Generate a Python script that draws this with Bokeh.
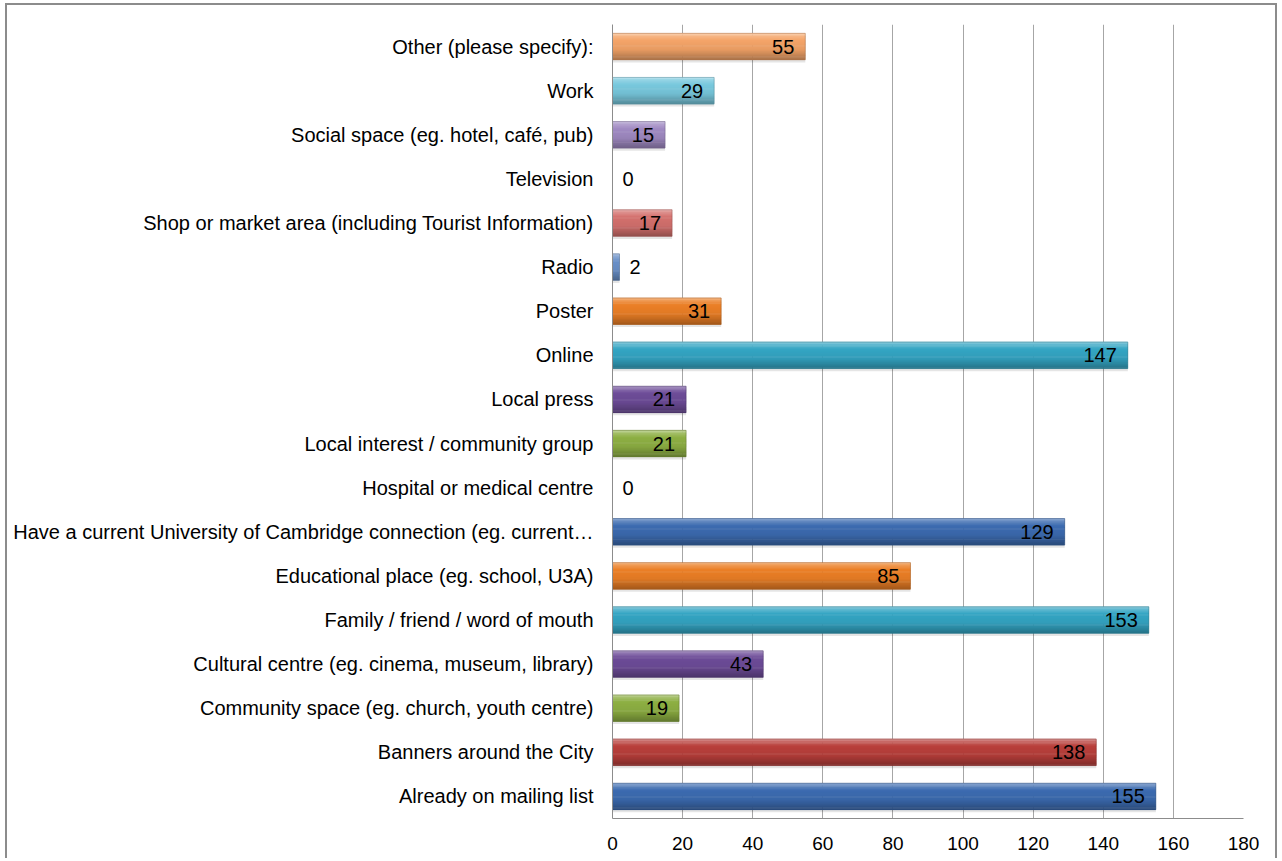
from bokeh.plotting import figure
from bokeh.models import ColumnDataSource, Range1d, FixedTicker, LabelSet
from bokeh.core.properties import value
from bokeh.embed import file_html
from bokeh.resources import INLINE

categories = [
    "Already on mailing list",
    "Banners around the City",
    "Community space (eg. church, youth centre)",
    "Cultural centre (eg. cinema, museum, library)",
    "Family / friend / word of mouth",
    "Educational place (eg. school, U3A)",
    "Have a current University of Cambridge connection (eg. current\u2026",
    "Hospital or medical centre",
    "Local interest / community group",
    "Local press",
    "Online",
    "Poster",
    "Radio",
    "Shop or market area (including Tourist Information)",
    "Television",
    "Social space (eg. hotel, caf\u00e9, pub)",
    "Work",
    "Other (please specify):",
]
values = [155, 138, 19, 43, 153, 85, 129, 0, 21, 21, 147, 31, 2, 17, 0, 15, 29, 55]
x_ticks = [0, 20, 40, 60, 80, 100, 120, 140, 160, 180]

# styles
base_cols = ["#3C6BB0", "#B83F3B", "#8DAF43", "#6D4C98", "#34A5C3", "#EB7F26"]
light_cols = ["#6A90C8", "#D4716E", "#B4CF7C", "#A08AC2", "#78C8DD", "#F4A468"]
FONT = "Liberation Sans"
BAR_H = 0.6
N_STRIP = 24


def hex2rgb(h):
    h = h.lstrip("#")
    return [int(h[i:i + 2], 16) for i in (0, 2, 4)]


def rgb2hex(c):
    return "#%02x%02x%02x" % tuple(max(0, min(255, int(round(v)))) for v in c)


keys_t = [0.0, 0.10, 0.28, 0.62, 1.0]
keys_f = [0.50, 0.22, 0.0, -0.05, -0.30]


def shade(h, t):
    f = 0.0
    for i in range(len(keys_t) - 1):
        if keys_t[i] <= t <= keys_t[i + 1]:
            a = (t - keys_t[i]) / (keys_t[i + 1] - keys_t[i])
            f = keys_f[i] + a * (keys_f[i + 1] - keys_f[i])
            break
    c = hex2rgb(h)
    if f >= 0:
        c = [v + (255 - v) * f for v in c]
    else:
        c = [v * (1 + f) for v in c]
    return rgb2hex(c)


bar_colors = []
for i in range(len(categories)):
    cyc = i // 6
    bar_colors.append((light_cols if cyc >= 2 else base_cols)[i % 6])

sy, sv, sc = [], [], []
sh = BAR_H / N_STRIP
for i, (v, col) in enumerate(zip(values, bar_colors)):
    for k in range(N_STRIP):
        t = (k + 0.5) / N_STRIP
        sy.append(i + BAR_H / 2 - (k + 0.5) * sh)
        sv.append(v)
        sc.append(shade(col, t))
strips = ColumnDataSource(dict(y=sy, right=sv, color=sc))

p = figure(width=1272, height=855, output_backend="svg", toolbar_location=None,
           x_range=Range1d(0, 180), y_range=Range1d(-0.5, len(categories) - 0.5),
           min_border_left=605, min_border_right=36, min_border_top=19, min_border_bottom=42)
p.styles = {"margin-left": "5px", "margin-top": "3px",
            "border-left": "2px solid #8c8c8c", "border-top": "2px solid #8c8c8c",
            "border-right": "2px solid #8c8c8c"}
p.outline_line_color = None
p.background_fill_color = "white"
p.border_fill_color = "white"

# shadow
shadow = ColumnDataSource(dict(y=[i - 0.06 for i in range(len(values))], right=values))
p.hbar(y="y", right="right", left=0, height=BAR_H, source=shadow,
       fill_color="#000000", fill_alpha=0.10, line_color=None)

p.hbar(y="y", right="right", left=0, height=sh * 1.5, source=strips,
       fill_color="color", line_color=None)

outline = ColumnDataSource(dict(y=list(range(len(values))), right=values,
                                color=[shade(c, 1.0) for c in bar_colors]))
p.hbar(y="y", right="right", left=0, height=BAR_H, source=outline,
       fill_color=None, line_color="color", line_alpha=0.5, line_width=1)

# labels
ins = [i for i, v in enumerate(values) if v >= 5]
outs = [i for i, v in enumerate(values) if v < 5]
src_in = ColumnDataSource(dict(x=[values[i] for i in ins], y=ins, t=[str(values[i]) for i in ins]))
src_out = ColumnDataSource(dict(x=[values[i] for i in outs], y=outs, t=[str(values[i]) for i in outs]))
p.add_layout(LabelSet(x="x", y="y", text="t", source=src_in, x_offset=-11,
                      text_align="right", text_baseline="middle",
                      text_font=value(FONT), text_font_size=value("20px"), text_color="black"))
p.add_layout(LabelSet(x="x", y="y", text="t", source=src_out, x_offset=10,
                      text_align="left", text_baseline="middle",
                      text_font=value(FONT), text_font_size=value("20px"), text_color="black"))

# axes
p.xaxis.ticker = FixedTicker(ticks=x_ticks)
p.xaxis.major_tick_line_color = None
p.xaxis.minor_tick_line_color = None
p.xaxis.axis_line_color = "#8c8c8c"
p.xaxis.major_label_text_font = FONT
p.xaxis.major_label_text_font_size = "19px"
p.xaxis.major_label_text_color = "black"
p.xaxis.major_label_standoff = 12

p.yaxis.ticker = FixedTicker(ticks=list(range(len(categories))))
p.yaxis.major_label_overrides = {i: c for i, c in enumerate(categories)}
p.yaxis.major_tick_line_color = None
p.yaxis.minor_tick_line_color = None
p.yaxis.axis_line_color = "#8c8c8c"
p.yaxis.major_label_text_font = FONT
p.yaxis.major_label_text_font_size = "20px"
p.yaxis.major_label_text_color = "black"
p.yaxis.major_label_standoff = 13

p.xgrid.ticker = FixedTicker(ticks=x_ticks)
p.xgrid.grid_line_color = "#a6a6a6"
p.ygrid.grid_line_color = None

open("out.html", "w").write(file_html(p, INLINE))
